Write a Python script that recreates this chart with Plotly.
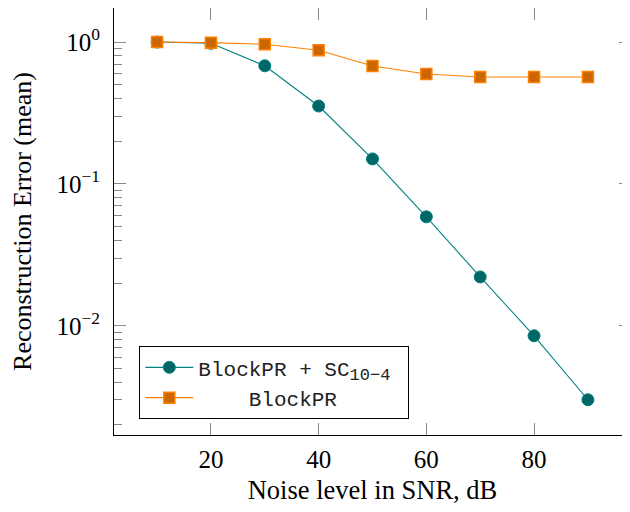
import plotly.graph_objects as go

snr = [10, 20, 30, 40, 50, 60, 70, 80, 90]
err_sc = [1.0, 0.98, 0.68, 0.354, 0.150, 0.0586, 0.0221, 0.0085, 0.00301]
err_block = [1.0, 0.99, 0.965, 0.875, 0.678, 0.595, 0.567, 0.567, 0.567]

name_sc = "BlockPR + SC<sub><span style='font-size:17px'>10\u22124</span></sub>\u00a0"
name_block = "\u00a0\u00a0\u00a0\u00a0BlockPR"

y_major = [1, 0.1, 0.01]
y_major_text = ["10<sup>0</sup>", "10<sup>\u22121</sup>", "10<sup>\u22122</sup>"]
y_minor = [m * 10.0 ** e for e in (-3, -2, -1, 0) for m in range(2, 10)]
x_major = [20, 40, 60, 80]

fig = go.Figure()
fig.add_trace(go.Scatter(
    x=snr, y=err_sc, mode="lines+markers", name=name_sc,
    line=dict(color="#008080", width=1.1),
    marker=dict(symbol="circle", size=12, color="#006666",
                line=dict(color="#008080", width=1)),
))
fig.add_trace(go.Scatter(
    x=snr, y=err_block, mode="lines+markers", name=name_block,
    line=dict(color="#ff8000", width=1.1),
    marker=dict(symbol="square", size=11, color="#cc6600",
                line=dict(color="#ff8000", width=1.5)),
))

serif = "Liberation Serif, Times New Roman, serif"
# the page adds an 8px body margin, so the figure is a bit smaller and shifted
fig.update_layout(
    width=623, height=504,
    margin=dict(l=106, r=0, t=0, b=77),
    plot_bgcolor="white", paper_bgcolor="white",
    font=dict(family=serif, size=25, color="black"),
    showlegend=True,
    legend=dict(
        x=0.049, y=0.208, xanchor="left", yanchor="top",
        bgcolor="white", bordercolor="black", borderwidth=1,
        font=dict(family="Liberation Mono, Courier New, monospace", size=21, color="#222"),
        tracegroupgap=0, itemwidth=48,
    ),
)
fig.update_xaxes(
    range=[2, 98], tickmode="array", tickvals=x_major,
    ticks="inside", ticklen=12, tickwidth=1.3, tickcolor="#888",
    showline=True, linecolor="black", linewidth=1, mirror="ticks",
    showgrid=False, zeroline=False, automargin=False,
    tickfont=dict(family=serif, size=25), ticklabelstandoff=2,
    title=dict(text="Noise level in SNR, dB", font=dict(family=serif, size=26.5), standoff=8),
)
fig.update_yaxes(
    type="log", range=[-2.77, 0.24],
    tickmode="array", tickvals=y_major, ticktext=y_major_text,
    ticks="inside", ticklen=12, tickwidth=1.3, tickcolor="#888",
    minor=dict(tickmode="array", tickvals=y_minor, ticks="inside", ticklen=8,
               tickwidth=1.3, tickcolor="#888", showgrid=False),
    showline=True, linecolor="black", linewidth=1, mirror="ticks",
    showgrid=False, zeroline=False, automargin=False,
    tickfont=dict(family=serif, size=25), ticklabelstandoff=8,
    title=dict(text="Reconstruction Error (mean)", font=dict(family=serif, size=26), standoff=18),
)

fig.write_html("out.html")
